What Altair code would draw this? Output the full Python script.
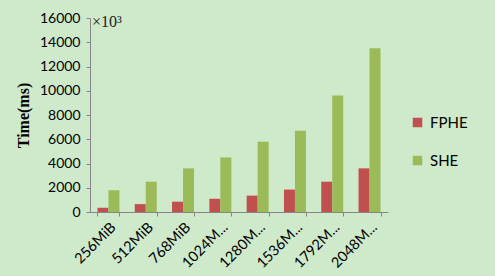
import altair as alt
import pandas as pd

categories = ["256MiB", "512MiB", "768MiB", "1024M...", "1280M...", "1536M...", "1792M...", "2048M..."]
fphe = [350, 650, 850, 1100, 1350, 1850, 2500, 3600]
she = [1800, 2500, 3600, 4500, 5800, 6700, 9600, 13500]
series = ["FPHE", "SHE"]
y_ticks = [0, 2000, 4000, 6000, 8000, 10000, 12000, 14000, 16000]

rows = []
for c, a, b in zip(categories, fphe, she):
    rows.append({"size": c, "series": "FPHE", "time": a})
    rows.append({"size": c, "series": "SHE", "time": b})
df = pd.DataFrame(rows)

font = "Lato"

bars = alt.Chart(df).mark_bar().encode(
    x=alt.X("size:N", sort=categories,
            scale=alt.Scale(paddingInner=0.41, paddingOuter=0.2),
            axis=alt.Axis(title=None, labelAngle=-45, tickBand="extent",
                          labelFontSize=14.5, labelFont=font, labelColor="#000000",
                          domainColor="#868686", tickColor="#868686", tickSize=4,
                          labelPadding=4)),
    xOffset=alt.XOffset("series:N", sort=series),
    y=alt.Y("time:Q", scale=alt.Scale(domain=[0, 16000], nice=False),
            axis=alt.Axis(title="Time(ms)", values=y_ticks, grid=False, format="d",
                          labelFontSize=14, labelFont=font, labelColor="#000000",
                          domainColor="#868686", tickColor="#868686", tickSize=4,
                          labelPadding=6,
                          titleFont="Liberation Serif", titleFontSize=16,
                          titleFontWeight="bold", titleColor="#000000",
                          titlePadding=8)),
    color=alt.Color("series:N", sort=series,
                    scale=alt.Scale(domain=series, range=["#c0504d", "#9bbb59"]),
                    legend=alt.Legend(title=None, orient="none", legendX=320, legendY=97,
                                      symbolType="square", symbolSize=90,
                                      symbolStrokeWidth=0, labelFontSize=15,
                                      labelFont=font, labelColor="#000000",
                                      rowPadding=22, labelOffset=5)),
)

mult = alt.Chart(pd.DataFrame({"t": ["×10³"]})).mark_text(
    font="Liberation Serif", fontSize=16, align="left", baseline="middle", color="#222222"
).encode(x=alt.value(2), y=alt.value(4), text="t:N")

chart = alt.layer(bars, mult).properties(
    width=298, height=194,
    autosize=alt.AutoSizeParams(type="none"),
    padding={"left": 90, "top": 18, "right": 107, "bottom": 64},
    background="#cfeacb",
).configure_view(stroke=None)

chart.save("out.html", embed_options={"renderer": "svg", "actions": False})
